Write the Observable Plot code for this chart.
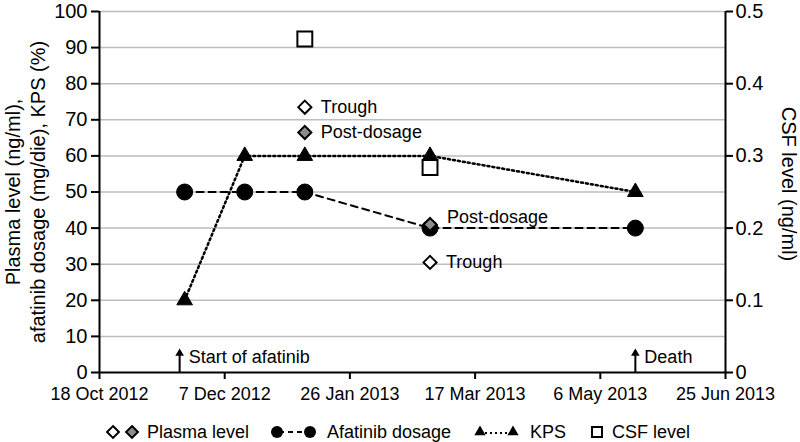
<!DOCTYPE html>
<html><head><meta charset="utf-8">
<script src="https://cdn.jsdelivr.net/npm/d3@7"></script>
<script src="https://cdn.jsdelivr.net/npm/@observablehq/plot@0.6"></script>
<style>
body{margin:0;background:#fff;font-family:"Liberation Sans",Arial,Helvetica,sans-serif;}
#chart{width:800px;}
#chart svg{display:block;}
</style></head><body><div id="chart"></div>
<script>
// ---- data ----
const dosageDates = ["2012-11-21","2012-12-15","2013-01-08","2013-02-27","2013-05-20"];
const dosageValues = [50,50,50,40,40];
const kpsDates = ["2012-11-21","2012-12-15","2013-01-08","2013-02-27","2013-05-20"];
const kpsValues = [20,60,60,60,50];
const plasmaDates = ["2013-01-08","2013-02-27"];
const troughValues = [73.5,30.5];
const postDosageValues = [66.5,41];
const csfDates = ["2013-01-08","2013-02-27"];
const csfValues = [0.462,0.284];
const xTickDates = ["2012-10-18","2012-12-07","2013-01-26","2013-03-17","2013-05-06","2013-06-25"];
const yTicks = [0,10,20,30,40,50,60,70,80,90,100];
const csfTicks = [0,0.1,0.2,0.3,0.4,0.5];
const eventDates = ["2012-11-19","2013-05-20"];
const eventLabels = ["Start of afatinib","Death"];
const csfFactor = 200; // 0.5 ng/ml on right axis = 100 on left axis

const parse = d3.utcParse("%Y-%m-%d");
const fmtDate = d3.utcFormat("%-d %b %Y");
const dosage = dosageDates.map((d,i)=>({date:parse(d), value:dosageValues[i]}));
const kps = kpsDates.map((d,i)=>({date:parse(d), value:kpsValues[i]}));
const trough = plasmaDates.map((d,i)=>({date:parse(d), value:troughValues[i], label:"Trough"}));
const post = plasmaDates.map((d,i)=>({date:parse(d), value:postDosageValues[i], label:"Post-dosage"}));
const csf = csfDates.map((d,i)=>({date:parse(d), value:csfValues[i]*csfFactor}));
const events = eventDates.map((d,i)=>({date:parse(d), label:eventLabels[i]}));
const xTicks = xTickDates.map(parse);
const x0 = xTicks[0], x1 = xTicks[xTicks.length-1];
const FONT = '"Liberation Sans",Arial,Helvetica,sans-serif';

const chart = Plot.plot({
  width: 800, height: 412,
  marginTop: 11, marginBottom: 40, marginLeft: 99, marginRight: 75,
  style: {fontFamily: FONT, fontSize: "18px", color: "#000", background: "#fff", overflow: "visible"},
  x: {type: "utc", domain: [x0, x1]},
  y: {domain: [0, 100]},
  marks: [
    Plot.gridY(yTicks.filter(d => d > 0), {stroke: "#bdbdbd", strokeOpacity: 1, strokeWidth: 1.5}),
    Plot.axisY(yTicks, {anchor: "left", tickSize: 8, tickPadding: 4, fontSize: 20, strokeWidth: 2, label: null}),
    Plot.axisY(csfTicks.map(v => v*csfFactor), {anchor: "right", tickSize: 7, tickPadding: 3, fontSize: 20, strokeWidth: 2,
      tickFormat: d => String(+(d/csfFactor).toFixed(2)), label: null}),
    Plot.axisX(xTicks, {anchor: "bottom", tickSize: 7, tickPadding: 8, fontSize: 18, strokeWidth: 2, tickFormat: fmtDate, label: null}),
    Plot.ruleX([x0, x1], {stroke: "#000", strokeWidth: 2}),
    Plot.ruleY([0], {stroke: "#000", strokeWidth: 2}),
    // axis titles
    Plot.text(["Plasma level (ng/ml),"], {frameAnchor: "left", dx: -86, rotate: -90, fontSize: 20, textAnchor: "middle", lineAnchor: "middle"}),
    Plot.text(["afatinib dosage (mg/die), KPS (%)"], {frameAnchor: "left", dx: -61, rotate: -90, fontSize: 20, textAnchor: "middle", lineAnchor: "middle"}),
    Plot.text(["CSF level (ng/ml)"], {frameAnchor: "right", dx: 63, dy: -8, rotate: 90, fontSize: 20, textAnchor: "middle", lineAnchor: "middle"}),
    // events
    Plot.ruleX(events, {x: "date", y1: 0, y2: 5, stroke: "#000", strokeWidth: 2}),
    Plot.dot(events, {x: "date", y: 5.3, symbol: "triangle", r: 3.2, fill: "#000", stroke: "none"}),
    Plot.text(events, {x: "date", y: 4.1, text: "label", dx: 9, textAnchor: "start", lineAnchor: "middle", fontSize: 18}),
    // lines
    Plot.line(dosage, {x: "date", y: "value", stroke: "#000", strokeWidth: 2, strokeDasharray: "7,5"}),
    Plot.line(kps, {x: "date", y: "value", stroke: "#000", strokeWidth: 2.5, strokeDasharray: "2,3"}),
    // markers
    Plot.dot(csf, {x: "date", y: "value", symbol: "square", r: 8.4, fill: "#fff", stroke: "#000", strokeWidth: 2}),
    Plot.dot(dosage, {x: "date", y: "value", r: 8, fill: "#000", stroke: "#000", strokeWidth: 1}),
    Plot.dot(kps, {x: "date", y: "value", symbol: "triangle", r: 5.8, fill: "#000", stroke: "#000", strokeWidth: 1}),
    Plot.dot(trough, {x: "date", y: "value", symbol: d3.symbolDiamond2, r: 5.9, fill: "#fff", stroke: "#000", strokeWidth: 2}),
    Plot.dot(post, {x: "date", y: "value", symbol: d3.symbolDiamond2, r: 5.9, fill: "#8c8c8c", stroke: "#000", strokeWidth: 2}),
    // point labels
    Plot.text(trough, {x: "date", y: "value", text: "label", dx: 16, textAnchor: "start", lineAnchor: "middle", fontSize: 18}),
    Plot.text(post.slice(0, 1), {x: "date", y: "value", text: "label", dx: 16, textAnchor: "start", lineAnchor: "middle", fontSize: 18}),
    Plot.text(post.slice(1), {x: "date", y: "value", text: "label", dx: 17, dy: -7, textAnchor: "start", lineAnchor: "middle", fontSize: 18})
  ]
});
document.getElementById("chart").appendChild(chart);

// ---- legend ----
const legendItems = ["Plasma level","Afatinib dosage","KPS","CSF level"];
const lg = d3.select("#chart").append("svg").attr("width", 800).attr("height", 30)
  .style("font-family", FONT).style("font-size", "18px");
const cy = 20;
const dia = d3.symbol().type(d3.symbolDiamond2).size(90);
lg.append("path").attr("d", dia()).attr("transform", `translate(113,${cy})`).attr("fill", "#fff").attr("stroke", "#000").attr("stroke-width", 2);
lg.append("path").attr("d", dia()).attr("transform", `translate(132,${cy})`).attr("fill", "#8c8c8c").attr("stroke", "#000").attr("stroke-width", 2);
lg.append("text").attr("x", 147).attr("y", cy).attr("dy", "0.35em").text(legendItems[0]);
lg.append("line").attr("x1", 277).attr("x2", 310).attr("y1", cy).attr("y2", cy).attr("stroke", "#000").attr("stroke-width", 2).attr("stroke-dasharray", "5,4").attr("stroke-dashoffset", -2);
lg.append("circle").attr("cx", 277).attr("cy", cy).attr("r", 6).attr("fill", "#000");
lg.append("circle").attr("cx", 310).attr("cy", cy).attr("r", 6).attr("fill", "#000");
lg.append("text").attr("x", 327).attr("y", cy).attr("dy", "0.35em").text(legendItems[1]);
const tri = d3.symbol().type(d3.symbolTriangle).size(55);
lg.append("line").attr("x1", 480).attr("x2", 513).attr("y1", cy+1).attr("y2", cy+1).attr("stroke", "#000").attr("stroke-width", 2).attr("stroke-dasharray", "2,3");
lg.append("path").attr("d", tri()).attr("transform", `translate(480,${cy})`).attr("fill", "#000");
lg.append("path").attr("d", tri()).attr("transform", `translate(513,${cy})`).attr("fill", "#000");
lg.append("text").attr("x", 530).attr("y", cy).attr("dy", "0.35em").text(legendItems[2]);
lg.append("rect").attr("x", 592).attr("y", cy-5).attr("width", 10).attr("height", 10).attr("fill", "#fff").attr("stroke", "#000").attr("stroke-width", 2);
lg.append("text").attr("x", 612).attr("y", cy).attr("dy", "0.35em").text(legendItems[3]);
</script>
</body></html>
